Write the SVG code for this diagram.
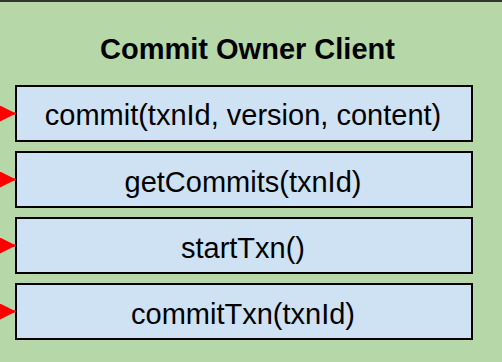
<svg xmlns="http://www.w3.org/2000/svg" width="502" height="362" viewBox="0 0 502 362">
  <style>
    .panel { fill: #b6d7a8; }
    .frame { stroke: #333333; stroke-width: 2; fill: none; }
    .method rect { fill: #cfe2f3; stroke: #000000; stroke-width: 2; }
    .method text { font-family: "Liberation Sans", Arial, sans-serif; font-size: 29px; fill: #000000; text-anchor: middle; }
    .title { font-family: "Liberation Sans", Arial, sans-serif; font-size: 29px; font-weight: bold; fill: #000000; text-anchor: middle; }
    .link { stroke: #ff0000; stroke-width: 2; fill: none; marker-end: url(#arrow); }
  </style>
  <defs>
    <marker id="arrow" markerUnits="userSpaceOnUse" viewBox="0 0 16 16" refX="16" refY="8" markerWidth="16" markerHeight="16" orient="auto">
      <path d="M0,0 L16,8 L0,16 Z" fill="#ff0000"/>
    </marker>
  </defs>

  <!-- client container -->
  <g id="commit-owner-client">
    <rect class="panel" x="0" y="0" width="502" height="362"/>
    <line class="frame" x1="0" y1="1" x2="502" y2="1"/>
    <text class="title" x="247.5" y="59">Commit Owner Client</text>
  </g>

  <!-- method boxes -->
  <g id="method-commit" class="method">
    <rect x="16" y="86" width="456" height="55"/>
    <text x="243" y="125">commit(txnId, version, content)</text>
  </g>
  <g id="method-getcommits" class="method">
    <rect x="16" y="152" width="456" height="55"/>
    <text x="243" y="192">getCommits(txnId)</text>
  </g>
  <g id="method-starttxn" class="method">
    <rect x="16" y="218" width="456" height="55"/>
    <text x="243" y="258">startTxn()</text>
  </g>
  <g id="method-committxn" class="method">
    <rect x="16" y="284" width="456" height="55"/>
    <text x="243" y="324">commitTxn(txnId)</text>
  </g>

  <!-- incoming calls -->
  <g id="connectors">
    <path class="link" d="M-20,113.5 L16,113.5"/>
    <path class="link" d="M-20,179.5 L16,179.5"/>
    <path class="link" d="M-20,245.5 L16,245.5"/>
    <path class="link" d="M-20,311.5 L16,311.5"/>
  </g>
</svg>
